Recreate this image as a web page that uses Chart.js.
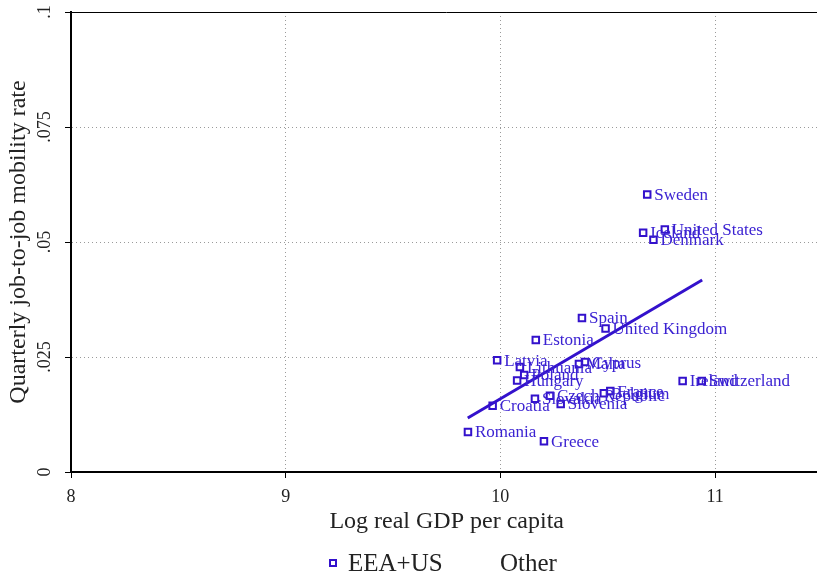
<!DOCTYPE html>
<html>
<head>
<meta charset="utf-8">
<script src="https://cdn.jsdelivr.net/npm/chart.js@4/dist/chart.umd.min.js"></script>
<style>
  html, body { margin: 0; padding: 0; background: #fff; overflow: hidden; }
  #wrap { width: 817px; height: 573px; overflow: hidden; }
  canvas { display: block; }
</style>
</head>
<body>
<div id="wrap"><canvas id="c" width="829" height="573"></canvas></div>
<script>
// Countries, log real GDP per capita and quarterly job-to-job mobility rate
const countries = ["Sweden", "Iceland", "United States", "Denmark", "Spain", "United Kingdom",
  "Estonia", "Latvia", "Lithuania", "Poland", "Hungary", "Malta", "Cyprus", "Croatia",
  "Slovakia", "Czech Republic", "Slovenia", "Belgium", "France", "Ireland", "Switzerland",
  "Romania", "Greece"];
const logGdp = [10.684, 10.665, 10.766, 10.713, 10.380, 10.490,
  10.165, 9.985, 10.091, 10.111, 10.078, 10.366, 10.394, 9.964,
  10.161, 10.231, 10.281, 10.482, 10.512, 10.849, 10.938,
  9.849, 10.203];
const mobility = [0.0603, 0.0520, 0.0527, 0.0505, 0.0335, 0.0312,
  0.0287, 0.0243, 0.0228, 0.0211, 0.0199, 0.0235, 0.0239, 0.0144,
  0.0159, 0.0166, 0.0148, 0.0171, 0.0176, 0.0198, 0.0198,
  0.0087, 0.0067];
// Fitted line endpoints (x, fitted rate)
const fitX = [9.848, 10.940];
const fitY = [0.01174, 0.04174];
// Axis ticks
const xTicks = [8, 9, 10, 11];
const yTicks = [0, 0.025, 0.05, 0.075, 0.1];
const seriesNames = ["EEA+US", "Other"];

const MARK = '#3311cc';
const LABEL = '#3b22d2';
const INK = '#222';
const SERIF = '"Liberation Serif", "DejaVu Serif", serif';

const fmt = v => v === 0 ? '0' : String(v).replace(/^0/, '');

const pointLabels = {
  id: 'pointLabels',
  afterDatasetsDraw(chart) {
    const ctx = chart.ctx;
    const meta = chart.getDatasetMeta(0);
    ctx.save();
    ctx.font = '17px ' + SERIF;
    ctx.fillStyle = LABEL;
    ctx.textAlign = 'left';
    ctx.textBaseline = 'middle';
    meta.data.forEach((pt, i) => {
      ctx.fillText(countries[i], pt.x + 7, pt.y + 1);
    });
    ctx.restore();
  }
};

const frame = {
  id: 'frame',
  afterDraw(chart) {
    const ctx = chart.ctx;
    const a = chart.chartArea;
    const ys = chart.scales.y;
    ctx.save();
    // top edge of the plot region
    ctx.strokeStyle = '#000';
    ctx.lineWidth = 1;
    ctx.beginPath();
    ctx.moveTo(a.left, a.top + 0.5);
    ctx.lineTo(a.right, a.top + 0.5);
    ctx.stroke();
    // rotated y tick labels
    ctx.font = '18px ' + SERIF;
    ctx.fillStyle = INK;
    ctx.textAlign = 'center';
    ctx.textBaseline = 'middle';
    ys.ticks.forEach(t => {
      const py = ys.getPixelForValue(t.value);
      ctx.save();
      ctx.translate(45, py);
      ctx.rotate(-Math.PI / 2);
      ctx.fillText(fmt(t.value), 0, 0);
      ctx.restore();
    });
    // legend
    const ly = 563;
    ctx.font = '25px ' + SERIF;
    ctx.textAlign = 'left';
    ctx.textBaseline = 'middle';
    ctx.strokeStyle = MARK;
    ctx.lineWidth = 2;
    ctx.strokeRect(330, ly - 3, 6, 6);
    ctx.fillStyle = INK;
    ctx.fillText(chart.data.datasets[0].label, 348, ly + 1);
    ctx.fillText(chart.data.datasets[1].label, 500, ly + 1);
    ctx.restore();
  }
};

new Chart(document.getElementById('c'), {
  type: 'scatter',
  data: {
    datasets: [
      {
        label: seriesNames[0],
        data: logGdp.map((x, i) => ({ x: x, y: mobility[i] })),
        pointStyle: 'rect',
        pointRadius: 4.6,
        pointBorderWidth: 2,
        pointBorderColor: MARK,
        pointBackgroundColor: 'rgba(255,255,255,0)',
        order: 1
      },
      {
        label: seriesNames[1],
        data: [],
        pointRadius: 0
      },
      {
        label: 'fit',
        type: 'line',
        data: fitX.map((x, i) => ({ x: x, y: fitY[i] })),
        borderColor: MARK,
        borderWidth: 3,
        pointRadius: 0,
        fill: false,
        order: 2
      }
    ]
  },
  options: {
    responsive: false,
    animation: false,
    layout: { padding: { top: 12, right: 0, bottom: 36, left: 0 } },
    plugins: { legend: { display: false }, tooltip: { enabled: false } },
    scales: {
      x: {
        type: 'linear',
        min: 8, max: 11.5,
        afterFit(s) { s.height = 65; },
        afterBuildTicks(s) { s.ticks = xTicks.map(v => ({ value: v })); },
        ticks: {
          font: { family: SERIF, size: 18 },
          color: INK,
          padding: 8,
          callback: v => fmt(v)
        },
        grid: {
          color: c => (c.tick && c.tick.value === 8) ? 'rgba(0,0,0,0)' : '#9a9a9a',
          lineWidth: 1,
          tickColor: '#000',
          tickLength: 6,
          tickBorderDash: []
        },
        border: { color: '#000', width: 2, dash: [1, 3] },
        title: {
          display: true,
          text: 'Log real GDP per capita',
          font: { family: SERIF, size: 24 },
          color: INK,
          padding: { top: 0, bottom: 1 }
        }
      },
      y: {
        type: 'linear',
        min: 0, max: 0.1,
        afterFit(s) { s.width = 71; },
        afterBuildTicks(s) { s.ticks = yTicks.map(v => ({ value: v })); },
        ticks: { display: false },
        grid: {
          color: c => (c.tick && (c.tick.value === 0 || c.tick.value === 0.1)) ? 'rgba(0,0,0,0)' : '#9a9a9a',
          lineWidth: 1,
          tickColor: '#000',
          tickLength: 6,
          tickBorderDash: []
        },
        border: { color: '#000', width: 2, dash: [1, 3] },
        title: {
          display: true,
          text: 'Quarterly job-to-job mobility rate',
          font: { family: SERIF, size: 24 },
          color: INK,
          padding: { top: 4, bottom: 0 }
        }
      }
    }
  },
  plugins: [pointLabels, frame]
});
</script>
</body>
</html>
